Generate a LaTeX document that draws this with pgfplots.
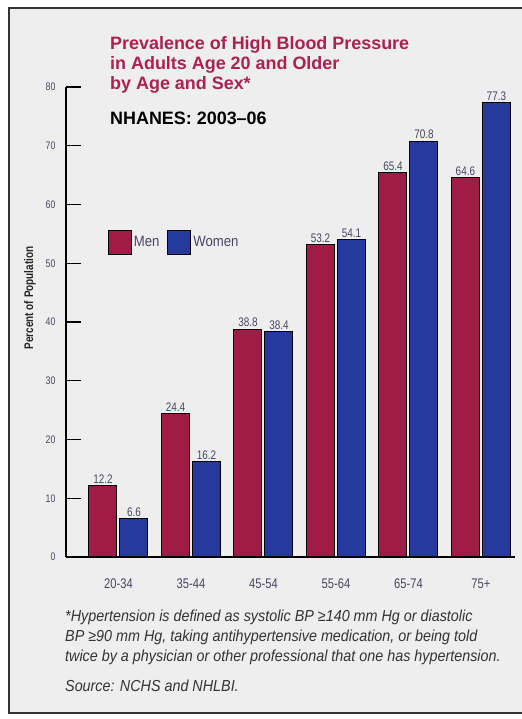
\documentclass[border=0pt]{standalone}
\usepackage{pgfplots}
\pgfplotsset{compat=1.18}
\usepackage{fontspec}
\setmainfont{Liberation Sans}
\newfontfamily\cond{Liberation Sans}[FakeStretch=0.8]
\newfontfamily\condb{Liberation Sans}[FakeStretch=0.88]
\newfontfamily\condit{Liberation Sans}[FakeStretch=0.9]
\definecolor{men}{RGB}{160,27,70}
\definecolor{women}{RGB}{38,58,158}
\definecolor{titlec}{RGB}{172,32,82}
\definecolor{bg}{RGB}{238,238,238}
\definecolor{lab}{RGB}{70,70,100}
\begin{document}
\begin{tikzpicture}[x=1bp,y=1bp]
\useasboundingbox (0,0) rectangle (522,719);
\begin{scope}
\clip (0,0) rectangle (522,719);
\fill[bg] (9,6) rectangle (540,711);
\draw[line width=2.5bp, black!80] (9,6) rectangle (540,711);
\end{scope}
\node[anchor=base west, inner sep=0, text=titlec, font=\bfseries\fontsize{18}{20}\selectfont] at (110,669) {Prevalence of High Blood Pressure};
\node[anchor=base west, inner sep=0, text=titlec, font=\bfseries\fontsize{18}{20}\selectfont] at (110,649) {in Adults Age 20 and Older};
\node[anchor=base west, inner sep=0, text=titlec, font=\bfseries\fontsize{18}{20}\selectfont] at (110,629) {by Age and Sex*};
\node[anchor=base west, inner sep=0, text=black, font=\bfseries\fontsize{18}{20}\selectfont] at (110,594) {NHANES: 2003--06};
\node[rotate=90, inner sep=0, font=\bfseries\cond\fontsize{12.5}{12.5}\selectfont, text=black!85] at (30,421) {Percent of Population};
\begin{axis}[
  at={(66bp,162bp)}, anchor=south west,
  scale only axis, width=449bp, height=470bp,
  xmin=-0.724, xmax=5.47, ymin=0, ymax=80,
  axis x line*=bottom, axis y line*=left,
  axis line style={line width=1.4bp, black},
  ytick={0,10,...,80},
  xtick={0,...,5},
  xticklabels={20-34,35-44,45-54,55-64,65-74,75+},
  x tick style={draw=none},
  y tick style={line width=1.4bp, black},
  tick align=inside, major tick length=15bp,
  /pgf/number format/assume math mode=true,
  yticklabel style={font=\cond\fontsize{11}{11}\selectfont, text=lab, xshift=-7bp},
  xticklabel style={font=\cond\fontsize{14}{14}\selectfont, text=lab, yshift=-3bp},
  ybar=3bp, bar width=28bp,
  nodes near coords={\pgfmathprintnumber[fixed,fixed zerofill,precision=1,assume math mode=true]{\pgfplotspointmeta}},
  nodes near coords style={font=\cond\fontsize{12.5}{12.5}\selectfont, text=lab, inner sep=1.5bp},
  legend style={at={(axis cs:-0.15,53.6)}, anchor=west, draw=none, fill=none,
    font=\condb\fontsize{15}{15}\selectfont, text=lab, inner sep=0pt,
    /tikz/every even column/.append style={column sep=6bp}},
  legend columns=2,
  legend image code/.code={\draw[#1,draw=black,line width=1bp] (0bp,-12bp) rectangle (23bp,12bp);},
  clip=false,
]
\addplot[fill=men, draw=black, line width=1bp] coordinates {(0,12.2) (1,24.4) (2,38.8) (3,53.2) (4,65.4) (5,64.6)};
\addplot[fill=women, draw=black, line width=1bp] coordinates {(0,6.6) (1,16.2) (2,38.4) (3,54.1) (4,70.8) (5,77.3)};
\legend{Men,Women}
\end{axis}
\begin{scope}[every node/.style={anchor=base west, inner sep=0, text=black!80, font=\condit\itshape\fontsize{16}{16}\selectfont}]
\node at (65,97) {*Hypertension is defined as systolic BP ≥140 mm Hg or diastolic};
\node at (65,77) {BP ≥90 mm Hg, taking antihypertensive medication, or being told};
\node at (65,57) {twice by a physician or other professional that one has hypertension.};
\node at (65,27) {Source: NCHS and NHLBI.};
\end{scope}
\end{tikzpicture}
\end{document}
